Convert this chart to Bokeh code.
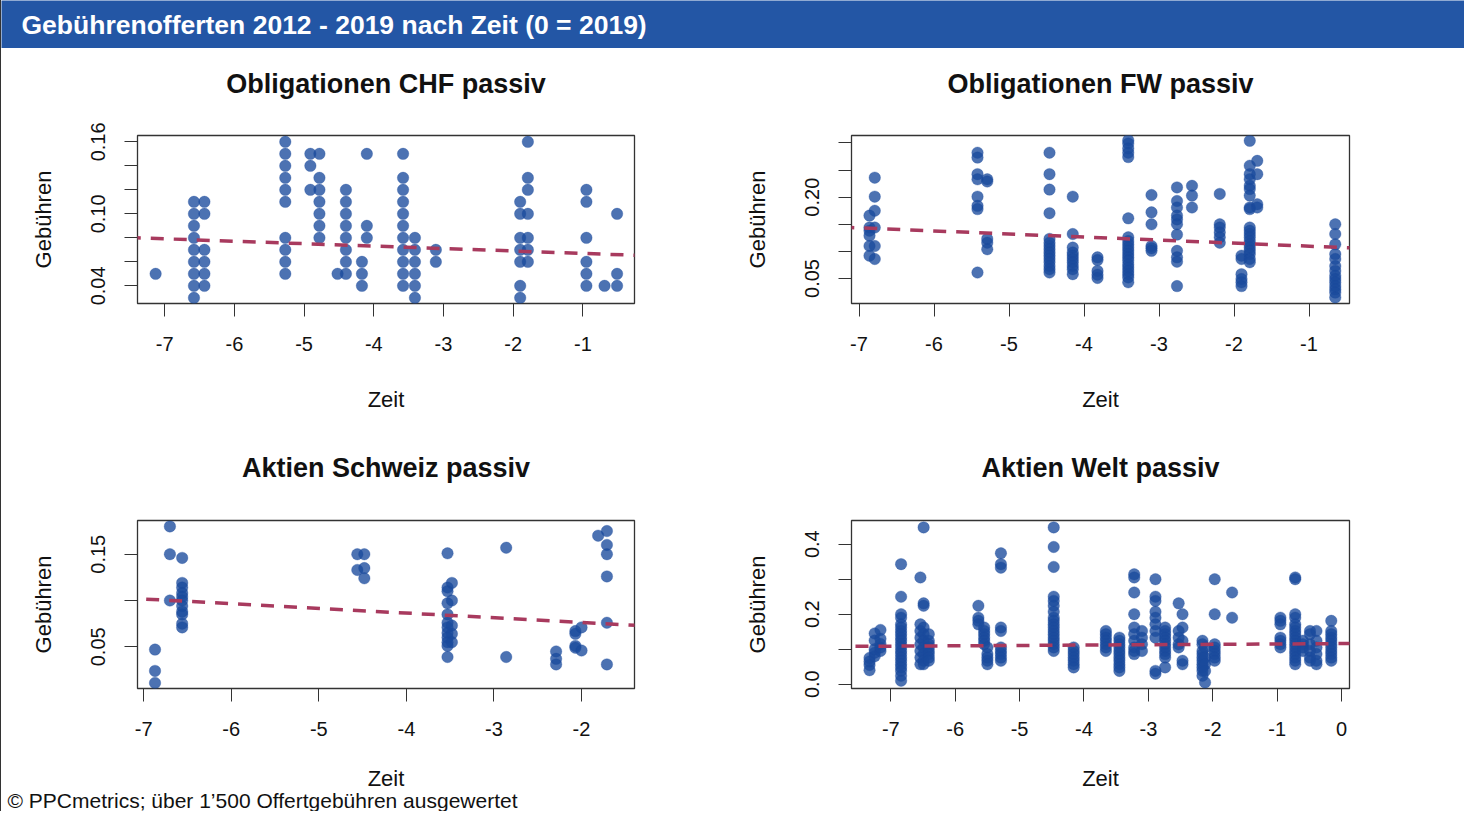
from bokeh.plotting import figure
from bokeh.models import (Range1d, FixedTicker, Slope, Label, Title,
                          ColumnDataSource, PrintfTickFormatter)
from bokeh.layouts import column, row
from bokeh.embed import file_html
from bokeh.resources import INLINE

# ---------------- data ----------------
HEADER = "Gebührenofferten 2012 - 2019 nach Zeit (0 = 2019)"
FOOTER = "© PPCmetrics; über 1’500 Offertgebühren ausgewertet"
X_LABEL = "Zeit"
Y_LABEL = "Gebühren"

# Panel 1: Obligationen CHF passiv
chf_title = "Obligationen CHF passiv"
chf_cols = [-7.13, -6.58, -6.43, -5.27, -4.91, -4.78, -4.52, -4.40, -4.17, -4.10,
            -3.58, -3.41, -3.11, -1.90, -1.79, -0.95, -0.69, -0.51]
chf_vals = [
    [0.05],
    [0.11, 0.10, 0.09, 0.08, 0.07, 0.06, 0.05, 0.04, 0.03],
    [0.11, 0.10, 0.07, 0.06, 0.05, 0.04],
    [0.16, 0.15, 0.14, 0.13, 0.12, 0.11, 0.08, 0.07, 0.06, 0.05],
    [0.15, 0.14, 0.12],
    [0.15, 0.13, 0.12, 0.11, 0.10, 0.09, 0.08],
    [0.05],
    [0.12, 0.11, 0.10, 0.09, 0.08, 0.07, 0.06, 0.05],
    [0.06, 0.05, 0.04],
    [0.15, 0.09, 0.08],
    [0.15, 0.13, 0.12, 0.11, 0.10, 0.09, 0.08, 0.07, 0.06, 0.05, 0.04],
    [0.08, 0.07, 0.06, 0.05, 0.04, 0.03],
    [0.07, 0.06],
    [0.11, 0.10, 0.08, 0.07, 0.06, 0.04, 0.03],
    [0.16, 0.13, 0.12, 0.10, 0.08, 0.07, 0.06],
    [0.12, 0.11, 0.08, 0.06, 0.05, 0.04],
    [0.04],
    [0.10, 0.05, 0.04],
]
chf_trend_intercept = 0.0650
chf_trend_slope = -0.00203
chf_xticks = [-7, -6, -5, -4, -3, -2, -1]
chf_yticks = [0.04, 0.10, 0.16]
chf_yticks_minor = [0.06, 0.08, 0.12, 0.14]

# Panel 2: Obligationen FW passiv
fw_title = "Obligationen FW passiv"
fw_cols = [-6.86, -6.79, -5.42, -5.29, -4.46, -4.15, -3.82, -3.41, -3.10, -2.76,
           -2.56, -2.19, -1.90, -1.79, -1.69, -0.65]
fw_vals = [
    [0.166, 0.144, 0.138, 0.129, 0.110, 0.092],
    [0.236, 0.201, 0.175, 0.144, 0.110, 0.086],
    [0.282, 0.273, 0.2425, 0.233, 0.201, 0.184, 0.178, 0.061],
    [0.233, 0.229, 0.123, 0.116, 0.104],
    [0.282, 0.2425, 0.214, 0.1705, 0.123, 0.116, 0.110, 0.104, 0.098, 0.092, 0.086,
     0.080, 0.073, 0.067, 0.061],
    [0.201, 0.132, 0.107, 0.098, 0.092, 0.086, 0.080, 0.073, 0.067, 0.058],
    [0.089, 0.084, 0.064, 0.057, 0.051],
    [0.305, 0.299, 0.290, 0.282, 0.274, 0.161, 0.126, 0.119, 0.113, 0.107, 0.101,
     0.095, 0.089, 0.083, 0.076, 0.070, 0.064, 0.058, 0.052, 0.043],
    [0.204, 0.172, 0.150, 0.110, 0.106, 0.101],
    [0.218, 0.193, 0.181, 0.166, 0.159, 0.150, 0.131, 0.101, 0.089, 0.081, 0.036],
    [0.221, 0.203, 0.181],
    [0.206, 0.150, 0.144, 0.135, 0.126, 0.116],
    [0.092, 0.086, 0.058, 0.049, 0.043, 0.036],
    [0.304, 0.258, 0.2425, 0.233, 0.221, 0.215, 0.203, 0.181, 0.178, 0.144, 0.138,
     0.132, 0.126, 0.119, 0.113, 0.107, 0.101, 0.095, 0.086, 0.080],
    [0.267, 0.2425, 0.187, 0.181],
    [0.150, 0.132, 0.113, 0.095, 0.086, 0.073, 0.064, 0.055, 0.049, 0.043, 0.036,
     0.030, 0.024, 0.015],
]
fw_trend_intercept = 0.104
fw_trend_slope = -0.00563
fw_xticks = [-7, -6, -5, -4, -3, -2, -1]
fw_yticks = [0.05, 0.20]
fw_yticks_minor = [0.10, 0.15, 0.25, 0.30]

# Panel 3: Aktien Schweiz passiv
ch_title = "Aktien Schweiz passiv"
ch_cols = [-6.87, -6.70, -6.56, -4.56, -4.48, -3.53, -3.48, -2.86, -2.29, -2.07,
           -2.00, -1.81, -1.71]
ch_vals = [
    [0.047, 0.024, 0.011],
    [0.180, 0.150, 0.100],
    [0.146, 0.119, 0.114, 0.108, 0.104, 0.100, 0.094, 0.088, 0.085, 0.075, 0.071],
    [0.150, 0.133],
    [0.150, 0.135, 0.124],
    [0.151, 0.114, 0.110, 0.097, 0.085, 0.076, 0.071, 0.065, 0.060, 0.055, 0.051, 0.039],
    [0.119, 0.100, 0.073, 0.064, 0.055],
    [0.157, 0.039],
    [0.045, 0.037, 0.031],
    [0.067, 0.064, 0.051, 0.049],
    [0.071, 0.046],
    [0.170],
    [0.175, 0.160, 0.150, 0.126, 0.076, 0.031],
]
ch_trend_intercept = 0.0662
ch_trend_slope = -0.00506
ch_xticks = [-7, -6, -5, -4, -3, -2]
ch_yticks = [0.05, 0.15]
ch_yticks_minor = [0.10]

# Panel 4: Aktien Welt passiv
w_title = "Aktien Welt passiv"
w_cols = [-7.33, -7.25, -7.16, -6.84, -6.54, -6.49, -6.41, -5.64, -5.55, -5.50,
          -5.29, -4.47, -4.16, -3.66, -3.45, -3.22, -3.10, -2.89, -2.74, -2.53,
          -2.47, -2.16, -2.12, -1.97, -1.70, -0.95, -0.72, -0.60, -0.49, -0.39, -0.16]
w_vals = [
    [0.040, 0.055, 0.065, 0.075],
    [0.080, 0.090, 0.100, 0.125, 0.145],
    [0.095, 0.105, 0.115, 0.130, 0.155],
    [0.343, 0.250, 0.200, 0.190, 0.171, 0.162, 0.152, 0.143, 0.133, 0.124, 0.114,
     0.105, 0.095, 0.086, 0.076, 0.067, 0.057, 0.048, 0.038, 0.024, 0.010],
    [0.305, 0.171, 0.152, 0.133, 0.114, 0.095, 0.076, 0.057],
    [0.448, 0.231, 0.224, 0.162, 0.143, 0.124, 0.105, 0.086, 0.067, 0.057],
    [0.143, 0.124, 0.114, 0.105, 0.095, 0.086, 0.076, 0.067],
    [0.224, 0.190, 0.181, 0.171],
    [0.162, 0.152, 0.143, 0.133, 0.124, 0.114],
    [0.105, 0.086, 0.076, 0.067, 0.057],
    [0.374, 0.343, 0.333, 0.162, 0.152, 0.105, 0.095, 0.086, 0.076, 0.067],
    [0.448, 0.392, 0.335, 0.250, 0.238, 0.224, 0.207, 0.190, 0.181, 0.171, 0.162,
     0.152, 0.143, 0.133, 0.124, 0.114, 0.105, 0.095],
    [0.105, 0.095, 0.086, 0.076, 0.067, 0.057, 0.048],
    [0.152, 0.143, 0.133, 0.124, 0.114, 0.105, 0.095],
    [0.133, 0.124, 0.114, 0.105, 0.095, 0.086, 0.076, 0.067, 0.057, 0.048, 0.038],
    [0.314, 0.305, 0.262, 0.200, 0.162, 0.143, 0.124, 0.105, 0.095, 0.086],
    [0.152, 0.133, 0.114, 0.095],
    [0.300, 0.250, 0.238, 0.207, 0.190, 0.171, 0.152, 0.133, 0.038, 0.030],
    [0.162, 0.152, 0.143, 0.133, 0.124, 0.114, 0.105, 0.095, 0.086, 0.076, 0.048],
    [0.231, 0.152, 0.133, 0.114, 0.105],
    [0.200, 0.162, 0.124, 0.067, 0.057],
    [0.124, 0.114, 0.095, 0.086, 0.076, 0.067, 0.057, 0.048, 0.038, 0.024],
    [0.105, 0.076, 0.057, 0.038, 0.005],
    [0.300, 0.200, 0.114, 0.105, 0.095, 0.086, 0.076, 0.067],
    [0.262, 0.190],
    [0.190, 0.181, 0.171, 0.133, 0.124, 0.114, 0.105],
    [0.305, 0.300, 0.200, 0.190, 0.171, 0.162, 0.152, 0.143, 0.133, 0.124, 0.114,
     0.105, 0.095, 0.086, 0.076, 0.067, 0.057],
    [0.124, 0.114, 0.105, 0.095],
    [0.152, 0.143, 0.114, 0.095, 0.076, 0.067],
    [0.152, 0.124, 0.105, 0.086, 0.067, 0.057],
    [0.181, 0.152, 0.143, 0.133, 0.124, 0.114, 0.105, 0.095, 0.086, 0.076, 0.067],
]
w_trend_intercept = 0.116
w_trend_slope = 0.00105
w_xticks = [-7, -6, -5, -4, -3, -2, -1, 0]
w_yticks = [0.0, 0.2, 0.4]
w_yticks_minor = [0.1, 0.3]

# ---------------- style ----------------
FONT = "Liberation Sans"
HDR_BLUE = "#2356a5"
PT_COLOR = "#1a4a9c"
TREND_COLOR = "#a83a5e"
AX_COLOR = "#333333"
B_LEFT = 136


def blank(width, height, b_left=0, b_right=0, fill="white"):
    f = figure(width=width, height=height, x_range=Range1d(0, 1), y_range=Range1d(0, 1),
               output_backend="svg", toolbar_location=None,
               min_border_left=b_left, min_border_right=b_right,
               min_border_top=0, min_border_bottom=0,
               x_axis_location=None, y_axis_location=None,
               background_fill_color=fill, border_fill_color=fill,
               outline_line_color=None)
    f.grid.visible = False
    return f


def title_strip(text, width, b_right, height):
    t = blank(width, height, B_LEFT, b_right)
    t.add_layout(Label(x=0.5, y=0.5, text=text, text_align="center",
                       text_baseline="middle", text_font=FONT, text_font_size="27px",
                       text_font_style="bold", text_color="#111111"))
    return t


def make_panel(cols, vals, icpt, slope, xr, yr, xticks, yticks, yminor,
               yfmt, width, b_right, height, b_top, b_bottom, xlab_standoff):
    p = figure(width=width, height=height,
               x_range=Range1d(*xr), y_range=Range1d(*yr),
               output_backend="svg", toolbar_location=None,
               min_border_left=B_LEFT, min_border_right=b_right,
               min_border_top=b_top, min_border_bottom=b_bottom,
               background_fill_color="white", border_fill_color="white")
    p.grid.visible = False
    p.outline_line_color = AX_COLOR
    p.outline_line_width = 1.3

    xa = p.xaxis[0]
    xa.ticker = FixedTicker(ticks=xticks, minor_ticks=[])
    xa.formatter = PrintfTickFormatter(format="%d")
    ya = p.yaxis[0]
    ya.ticker = FixedTicker(ticks=yticks, minor_ticks=yminor)
    ya.formatter = PrintfTickFormatter(format=yfmt)
    ya.major_label_orientation = "vertical"
    for ax in (xa, ya):
        ax.axis_line_color = None
        ax.major_tick_in = 0
        ax.major_tick_out = 13
        ax.minor_tick_in = 0
        ax.minor_tick_out = 13
        ax.major_tick_line_color = AX_COLOR
        ax.minor_tick_line_color = AX_COLOR
        ax.major_label_text_font = FONT
        ax.major_label_text_font_size = "20px"
        ax.major_label_text_color = "#111111"
        ax.axis_label_text_font = FONT
        ax.axis_label_text_font_size = "22px"
        ax.axis_label_text_font_style = "normal"
        ax.axis_label_text_color = "#111111"
    xa.axis_label = X_LABEL
    xa.major_label_standoff = 20
    xa.axis_label_standoff = xlab_standoff
    ya.axis_label = Y_LABEL
    ya.major_label_standoff = 19
    ya.axis_label_standoff = 33

    xs, ys = [], []
    for c, v in zip(cols, vals):
        xs += [c] * len(v)
        ys += v
    src = ColumnDataSource(dict(x=xs, y=ys))
    p.scatter("x", "y", source=src, size=11.5, fill_color=PT_COLOR, fill_alpha=0.78,
              line_color=PT_COLOR, line_alpha=0.3)
    p.add_layout(Slope(gradient=slope, y_intercept=icpt, line_color=TREND_COLOR,
                       line_width=3.5, line_dash="13 10"))
    return p


header = blank(1463, 48, fill=HDR_BLUE)
header.add_layout(Label(x=0, y=0.5, x_offset=20, text=HEADER, text_baseline="middle",
                        text_align="left", text_color="white", text_font=FONT,
                        text_font_size="26.5px", text_font_style="bold"))

chf_xr, chf_yr = (-7.39, -0.26), (0.0253, 0.1653)
fw_xr, fw_yr = (-7.10, -0.46), (0.0039, 0.3138)
ch_xr, ch_yr = (-7.07, -1.395), (0.005, 0.1864)
w_xr, w_yr = (-7.61, 0.123), (-0.0123, 0.4677)

# top row: title strip 70 + plot 305 ; bottom row: title strip 88 + plot 300
p1 = make_panel(chf_cols, chf_vals, chf_trend_intercept, chf_trend_slope,
                chf_xr, chf_yr, chf_xticks, chf_yticks, chf_yticks_minor,
                "%.2f", 714, 81, 305, 17, 120, 33)
p2 = make_panel(fw_cols, fw_vals, fw_trend_intercept, fw_trend_slope,
                fw_xr, fw_yr, fw_xticks, fw_yticks, fw_yticks_minor,
                "%.2f", 749, 115, 305, 17, 120, 33)
p3 = make_panel(ch_cols, ch_vals, ch_trend_intercept, ch_trend_slope,
                ch_xr, ch_yr, ch_xticks, ch_yticks, ch_yticks_minor,
                "%.2f", 714, 81, 300, 9, 123, 27)
p4 = make_panel(w_cols, w_vals, w_trend_intercept, w_trend_slope,
                w_xr, w_yr, w_xticks, w_yticks, w_yticks_minor,
                "%.1f", 749, 115, 300, 9, 123, 27)

# source note at the page's bottom-left corner
p3.add_layout(Title(text=FOOTER, align="left", offset=-130, standoff=-10,
                    vertical_align="top", text_font=FONT, text_font_size="21px",
                    text_font_style="normal", text_color="#111111"), "below")

t1 = title_strip(chf_title, 714, 81, 70)
t2 = title_strip(fw_title, 749, 115, 70)
t3 = title_strip(ch_title, 714, 81, 88)
t4 = title_strip(w_title, 749, 115, 88)

layout = column(header,
                row(column(t1, p1), column(t2, p2)),
                row(column(t3, p3), column(t4, p4)),
                styles={"border-left": "1px solid #333333"})
open("out.html", "w").write(file_html(layout, INLINE))
